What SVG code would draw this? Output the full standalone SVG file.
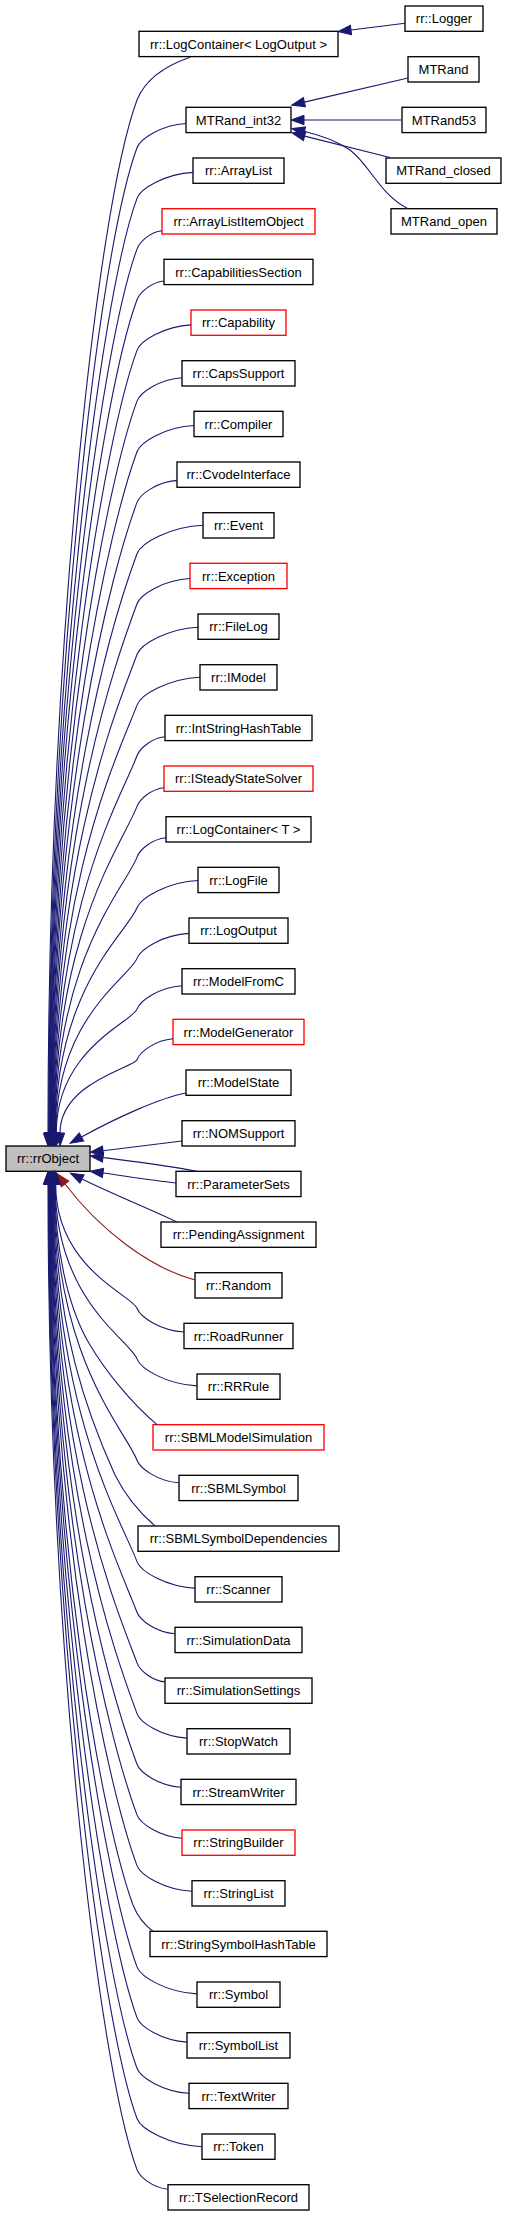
<svg xmlns="http://www.w3.org/2000/svg" width="507" height="2216" viewBox="0 0 507 2216">
<style>
.n rect{fill:#fff;stroke:#000;stroke-width:1.33}
.n.red rect{stroke:#ff0000}
.n.root rect{fill:#bfbfbf}
.n text{font-family:"Liberation Sans",Arial,sans-serif;font-size:13px;fill:#000;text-anchor:middle}
.e path{fill:none;stroke:#191970;stroke-width:1.1;marker-end:url(#ah)}
.e path.priv{stroke:#8b1a1a;marker-end:url(#ahr)}
</style>
<defs>
<marker id="ah" viewBox="0 0 14 12" refX="0" refY="6" markerWidth="14" markerHeight="12" orient="auto" markerUnits="userSpaceOnUse" overflow="visible"><path d="M0,1.3 L13,6 L0,10.7 z" fill="#191970" stroke="#191970" stroke-width="1"/></marker>
<marker id="ahr" viewBox="0 0 14 12" refX="0" refY="6" markerWidth="14" markerHeight="12" orient="auto" markerUnits="userSpaceOnUse" overflow="visible"><path d="M0,1.3 L13,6 L0,10.7 z" fill="#8b1a1a" stroke="#8b1a1a" stroke-width="1"/></marker>
</defs>
<rect width="507" height="2216" fill="#fff"/>
<g id="nodes">
<g id="Logger" class="n"><rect x="405" y="6" width="78" height="25.3"/><text x="444" y="23.3">rr::Logger</text></g>
<g id="LogContainerLogOutput" class="n"><rect x="139" y="31.3" width="199" height="25.3"/><text x="238.5" y="48.6">rr::LogContainer&lt; LogOutput &gt;</text></g>
<g id="MTRand" class="n"><rect x="408" y="56.7" width="71" height="25.3"/><text x="443.5" y="74">MTRand</text></g>
<g id="MTRand_int32" class="n"><rect x="186" y="107.3" width="105" height="25.3"/><text x="238.5" y="124.6">MTRand_int32</text></g>
<g id="MTRand53" class="n"><rect x="402" y="107.3" width="84" height="25.3"/><text x="444" y="124.6">MTRand53</text></g>
<g id="MTRand_closed" class="n"><rect x="386" y="158" width="115" height="25.3"/><text x="443.5" y="175.3">MTRand_closed</text></g>
<g id="MTRand_open" class="n"><rect x="391" y="208.7" width="106" height="25.3"/><text x="444" y="226">MTRand_open</text></g>
<g id="ArrayList" class="n"><rect x="193" y="158" width="91" height="25.3"/><text x="238.5" y="175.3">rr::ArrayList</text></g>
<g id="ArrayListItemObject" class="n red"><rect x="162" y="208.7" width="153" height="25.3"/><text x="238.5" y="226">rr::ArrayListItemObject</text></g>
<g id="CapabilitiesSection" class="n"><rect x="164" y="259.3" width="149" height="25.3"/><text x="238.5" y="276.6">rr::CapabilitiesSection</text></g>
<g id="Capability" class="n red"><rect x="191" y="310" width="95" height="25.3"/><text x="238.5" y="327.3">rr::Capability</text></g>
<g id="CapsSupport" class="n"><rect x="182" y="360.7" width="113" height="25.3"/><text x="238.5" y="378">rr::CapsSupport</text></g>
<g id="Compiler" class="n"><rect x="194" y="411.3" width="89" height="25.3"/><text x="238.5" y="428.6">rr::Compiler</text></g>
<g id="CvodeInterface" class="n"><rect x="177" y="462" width="123" height="25.3"/><text x="238.5" y="479.3">rr::CvodeInterface</text></g>
<g id="Event" class="n"><rect x="203" y="512.7" width="71" height="25.3"/><text x="238.5" y="530">rr::Event</text></g>
<g id="Exception" class="n red"><rect x="190" y="563.3" width="97" height="25.3"/><text x="238.5" y="580.6">rr::Exception</text></g>
<g id="FileLog" class="n"><rect x="198" y="614" width="81" height="25.3"/><text x="238.5" y="631.3">rr::FileLog</text></g>
<g id="IModel" class="n"><rect x="200" y="664.7" width="77" height="25.3"/><text x="238.5" y="682">rr::IModel</text></g>
<g id="IntStringHashTable" class="n"><rect x="165" y="715.3" width="147" height="25.3"/><text x="238.5" y="732.6">rr::IntStringHashTable</text></g>
<g id="ISteadyStateSolver" class="n red"><rect x="164" y="766" width="149" height="25.3"/><text x="238.5" y="783.3">rr::ISteadyStateSolver</text></g>
<g id="LogContainerT" class="n"><rect x="166" y="816.7" width="145" height="25.3"/><text x="238.5" y="834">rr::LogContainer&lt; T &gt;</text></g>
<g id="LogFile" class="n"><rect x="198" y="867.3" width="81" height="25.3"/><text x="238.5" y="884.6">rr::LogFile</text></g>
<g id="LogOutput" class="n"><rect x="189" y="918" width="99" height="25.3"/><text x="238.5" y="935.3">rr::LogOutput</text></g>
<g id="ModelFromC" class="n"><rect x="182" y="968.7" width="113" height="25.3"/><text x="238.5" y="986">rr::ModelFromC</text></g>
<g id="ModelGenerator" class="n red"><rect x="173" y="1019.3" width="131" height="25.3"/><text x="238.5" y="1036.6">rr::ModelGenerator</text></g>
<g id="ModelState" class="n"><rect x="186" y="1070" width="105" height="25.3"/><text x="238.5" y="1087.3">rr::ModelState</text></g>
<g id="NOMSupport" class="n"><rect x="182" y="1120.7" width="113" height="25.3"/><text x="238.5" y="1138">rr::NOMSupport</text></g>
<g id="rrObject" class="n root"><rect x="6" y="1146" width="84" height="25.3"/><text x="48" y="1163.3">rr::rrObject</text></g>
<g id="ParameterSets" class="n"><rect x="176" y="1171.3" width="125" height="25.3"/><text x="238.5" y="1188.6">rr::ParameterSets</text></g>
<g id="PendingAssignment" class="n"><rect x="161" y="1222" width="155" height="25.3"/><text x="238.5" y="1239.3">rr::PendingAssignment</text></g>
<g id="Random" class="n"><rect x="195" y="1272.7" width="87" height="25.3"/><text x="238.5" y="1290">rr::Random</text></g>
<g id="RoadRunner" class="n"><rect x="184" y="1323.3" width="109" height="25.3"/><text x="238.5" y="1340.6">rr::RoadRunner</text></g>
<g id="RRRule" class="n"><rect x="197" y="1374" width="83" height="25.3"/><text x="238.5" y="1391.3">rr::RRRule</text></g>
<g id="SBMLModelSimulation" class="n red"><rect x="153" y="1424.7" width="171" height="25.3"/><text x="238.5" y="1442">rr::SBMLModelSimulation</text></g>
<g id="SBMLSymbol" class="n"><rect x="179" y="1475.3" width="119" height="25.3"/><text x="238.5" y="1492.6">rr::SBMLSymbol</text></g>
<g id="SBMLSymbolDependencies" class="n"><rect x="138" y="1526" width="201" height="25.3"/><text x="238.5" y="1543.3">rr::SBMLSymbolDependencies</text></g>
<g id="Scanner" class="n"><rect x="195" y="1576.7" width="87" height="25.3"/><text x="238.5" y="1594">rr::Scanner</text></g>
<g id="SimulationData" class="n"><rect x="175" y="1627.3" width="127" height="25.3"/><text x="238.5" y="1644.6">rr::SimulationData</text></g>
<g id="SimulationSettings" class="n"><rect x="165" y="1678" width="147" height="25.3"/><text x="238.5" y="1695.3">rr::SimulationSettings</text></g>
<g id="StopWatch" class="n"><rect x="187" y="1728.7" width="103" height="25.3"/><text x="238.5" y="1746">rr::StopWatch</text></g>
<g id="StreamWriter" class="n"><rect x="181" y="1779.3" width="115" height="25.3"/><text x="238.5" y="1796.6">rr::StreamWriter</text></g>
<g id="StringBuilder" class="n red"><rect x="182" y="1830" width="113" height="25.3"/><text x="238.5" y="1847.3">rr::StringBuilder</text></g>
<g id="StringList" class="n"><rect x="192" y="1880.7" width="93" height="25.3"/><text x="238.5" y="1898">rr::StringList</text></g>
<g id="StringSymbolHashTable" class="n"><rect x="150" y="1931.3" width="177" height="25.3"/><text x="238.5" y="1948.6">rr::StringSymbolHashTable</text></g>
<g id="Symbol" class="n"><rect x="197" y="1982" width="83" height="25.3"/><text x="238.5" y="1999.3">rr::Symbol</text></g>
<g id="SymbolList" class="n"><rect x="187" y="2032.7" width="103" height="25.3"/><text x="238.5" y="2050">rr::SymbolList</text></g>
<g id="TextWriter" class="n"><rect x="189" y="2083.3" width="99" height="25.3"/><text x="238.5" y="2100.6">rr::TextWriter</text></g>
<g id="Token" class="n"><rect x="202" y="2134" width="73" height="25.3"/><text x="238.5" y="2151.3">rr::Token</text></g>
<g id="TSelectionRecord" class="n"><rect x="168" y="2184.7" width="141" height="25.3"/><text x="238.5" y="2202">rr::TSelectionRecord</text></g>
</g>
<g id="connectors" class="e">
<path d="M405,23.3 L351,30"/>
<path d="M408,78 L304.4,102.1"/>
<path d="M402,120 L304,120"/>
<path d="M390,157.5 L304.6,136.1"/>
<path d="M408,208.7 C380,195 370,165 350,150 C335,140 320,135 304.5,131.5"/>
<path d="M190,57.3 C165,66 145,80 137,100 C96,210.8 48,657.8 48,1133"/>
<path d="M186,123.5 C161.5,125 140.4,138.7 137,147.8 C97.9,253.5 48.7,679.8 48.7,1133"/>
<path d="M193,172.4 C165,173.9 140.6,188.6 137,198.4 C99.9,298.7 49.1,703.1 49.1,1133"/>
<path d="M162,230.8 C149.5,232.3 139.5,242.2 137,249.1 C101.9,343.9 49.6,714.9 49.6,1133"/>
<path d="M164,281 C150.5,282.5 139.6,292.8 137,299.8 C103.9,389.2 50,727.6 50,1133"/>
<path d="M191,324.9 C164,326.4 140.5,340.8 137,350.4 C105.9,434.4 50.5,741.7 50.5,1133"/>
<path d="M182,377.8 C159.5,379.3 140.2,392.4 137,401.1 C108,479.6 50.9,756.8 50.9,1133"/>
<path d="M194,425.5 C165.5,427 140.6,441.9 137,451.8 C110,524.9 51.4,774 51.4,1133"/>
<path d="M177,480.4 C157,481.9 140.1,494.1 137,502.4 C112,570.1 51.8,791.8 51.8,1133"/>
<path d="M203,525.3 C170,526.8 141,543.1 137,553.8 C114,615.9 52.3,811.5 52.3,1133"/>
<path d="M190,578.5 C163.5,580 140.5,594.3 137,603.8 C116,660.6 52.7,832.4 52.7,1133"/>
<path d="M198,627.2 C167.5,628.7 140.8,644.3 137,654.5 C118,705.8 53.2,854.5 53.2,1133"/>
<path d="M200,677.3 C168.5,678.8 140.9,694.7 137,705.1 C120,751 53.6,878.4 53.6,1133"/>
<path d="M165,736.8 C151,738.3 139.6,748.7 137,755.8 C122,796.3 54.1,903.3 54.1,1133"/>
<path d="M164,787.7 C150.5,789.2 139.6,799.4 137,806.4 C124,841.4 54.5,929.7 54.5,1133"/>
<path d="M166,837.8 C151.5,839.3 139.7,849.9 137,857.1 C126,886.7 55,957.5 55,1133"/>
<path d="M198,880.5 C167.5,882 140.8,897.6 137,907.8 C128,932 55.4,986.6 55.4,1133"/>
<path d="M189,933.4 C163,934.9 140.5,949 137,958.4 C130.1,977.1 55.9,1017.2 55.9,1133"/>
<path d="M182,985.8 C159.5,987.3 140.2,1000.4 137,1009.1 C132.1,1022.4 56.3,1049.1 56.3,1133"/>
<path d="M173,1038.8 C155,1040.3 139.9,1051.9 137,1059.8 C134.1,1067.6 60,1082.5 60,1133"/>
<path d="M186,1093 C160,1098 118,1117 81.5,1137"/>
<path d="M182,1141 L103,1150.7"/>
<path d="M197,1171.3 C170,1166 130,1161 103,1157.5"/>
<path d="M176,1183 C150,1180 125,1176 103,1173"/>
<path d="M177,1222 C150,1209 110,1193 82,1179"/>
<path class="priv" d="M195,1280 C150,1268 100,1230 65,1184"/>
<path d="M184,1332 C160.5,1330.5 140.3,1317.2 137,1308.3 C132.1,1295 55.7,1268.2 55.7,1184.3"/>
<path d="M197,1385.9 C167,1384.4 140.7,1369 137,1358.9 C130.1,1340.2 55.2,1300.1 55.2,1184.3"/>
<path d="M157,1424.7 C130,1402 105,1370 90,1345 C72,1315 55,1260 54.8,1184.3"/>
<path d="M179,1482.8 C158,1481.3 140.1,1468.7 137,1460.3 C126,1430.6 54.3,1359.8 54.3,1184.3"/>
<path d="M155,1526 C140,1513 125,1495 115,1475 C90,1420 54,1330 53.9,1184.3"/>
<path d="M195,1588.1 C166,1586.6 140.7,1571.5 137,1561.6 C122,1521.1 53.4,1414.1 53.4,1184.3"/>
<path d="M175,1633.8 C156,1632.3 140,1620.3 137,1612.3 C120,1566.4 53,1438.9 53,1184.3"/>
<path d="M165,1681.9 C151,1680.4 139.6,1670 137,1662.9 C118,1611.6 52.5,1462.7 52.5,1184.3"/>
<path d="M187,1738.1 C162,1736.6 140.4,1722.8 137,1713.6 C116,1656.8 52,1484.9 52,1184.3"/>
<path d="M181,1787.3 C159,1785.8 140.2,1772.9 137,1764.3 C114,1702 51.6,1505.9 51.6,1184.3"/>
<path d="M182,1838.2 C159.5,1836.7 140.2,1823.6 137,1814.9 C112,1747.2 51.2,1525.5 51.2,1184.3"/>
<path d="M192,1891.3 C164.5,1889.8 140.6,1875.2 137,1865.6 C110,1792.5 50.7,1543.3 50.7,1184.3"/>
<path d="M153,1931.3 C143,1924 137,1915 133,1905 C104.4,1827.7 50.3,1556.9 50.3,1184.3"/>
<path d="M197,1993.9 C167,1992.4 140.7,1977 137,1966.9 C105.9,1882.9 49.8,1575.6 49.8,1184.3"/>
<path d="M187,2042.1 C162,2040.6 140.4,2026.8 137,2017.6 C103.9,1928.2 49.4,1589.7 49.4,1184.3"/>
<path d="M189,2093.3 C163,2091.8 140.5,2077.6 137,2068.3 C101.9,1973.5 48.9,1602.4 48.9,1184.3"/>
<path d="M202,2146.7 C169.5,2145.2 140.9,2129.1 137,2118.5 C99.9,2018.2 48.5,1614 48.5,1184.3"/>
<path d="M168,2189.3 C152.5,2187.8 139.7,2177 137,2169.6 C97.9,2063.9 48,1637.5 48,1184.3"/>
</g>
</svg>
